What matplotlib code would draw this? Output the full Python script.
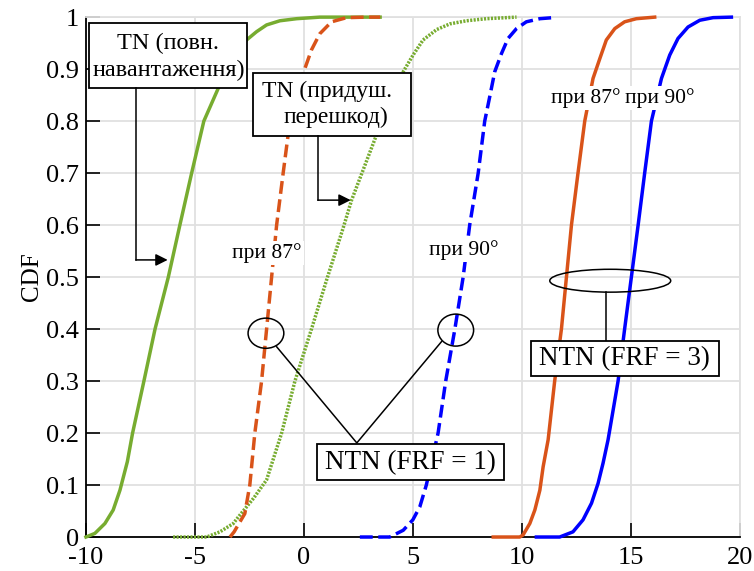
import matplotlib
matplotlib.use("Agg")
import matplotlib.pyplot as plt
from matplotlib.patches import Rectangle, Ellipse

# CDF curves
tn_full_x = [-10.0, -9.59, -9.13, -8.75, -8.44, -8.1, -7.86, -7.34, -6.83, -6.22, -5.69, -5.15, -4.59,
             -3.93, -2.63, -2.17, -1.71, -1.10, -0.33, 0.73, 3.5]
tn_full_y = [0.0, 0.007, 0.026, 0.052, 0.09, 0.145, 0.20, 0.30, 0.40, 0.50, 0.60, 0.70, 0.80,
             0.863, 0.956, 0.972, 0.985, 0.993, 0.997, 1.0, 1.0]

tn_supp_x = [-6.0, -4.46, -3.85, -3.24, -2.94, -2.3, -1.71, -1.02, -0.41, 0.35, 1.04, 1.80, 2.19,
             3.33, 4.56, 5.01, 5.47, 6.09, 6.70, 7.46, 8.38, 9.76]
tn_supp_y = [0.0, 0.0, 0.01, 0.026, 0.042, 0.075, 0.11, 0.20, 0.30, 0.40, 0.494, 0.594, 0.648,
             0.773, 0.895, 0.927, 0.956, 0.976, 0.987, 0.993, 0.997, 1.0]

ntn1_87_x = [-3.39, -3.2, -2.95, -2.71, -2.48, -2.25, -1.94, -1.71, -1.48, -1.25, -0.95, -0.64,
             -0.03, 0.35, 0.73, 1.27, 1.96, 2.87, 3.5]
ntn1_87_y = [0.0, 0.01, 0.028, 0.045, 0.10, 0.20, 0.30, 0.40, 0.50, 0.60, 0.70, 0.80,
             0.892, 0.937, 0.968, 0.991, 0.999, 1.0, 1.0]

ntn1_90_x = [2.57, 3.94, 4.56, 5.0, 5.32, 5.62, 6.16, 6.51, 6.93, 7.31, 7.61, 8.0, 8.3, 8.53, 8.76,
             9.07, 9.37, 9.76, 10.21, 10.83, 11.44]
ntn1_90_y = [0.0, 0.0, 0.013, 0.033, 0.058, 0.10, 0.20, 0.30, 0.40, 0.50, 0.60, 0.70, 0.80, 0.847, 0.895,
             0.930, 0.959, 0.978, 0.991, 0.997, 0.999]

ntn3_87_x = [8.69, 9.91, 10.06, 10.37, 10.6, 10.83, 10.98, 11.21, 11.51, 11.82, 12.05, 12.28, 12.58,
             12.89, 13.27, 13.58, 13.88, 14.27, 14.72, 15.26, 16.1]
ntn3_87_y = [0.0, 0.0, 0.004, 0.026, 0.052, 0.09, 0.135, 0.187, 0.30, 0.40, 0.50, 0.60, 0.70,
             0.80, 0.882, 0.92, 0.956, 0.978, 0.991, 0.997, 1.0]

ntn3_90_x = [10.67, 11.74, 12.35, 12.81, 13.2, 13.5, 13.73, 13.96, 14.42, 14.72, 15.03, 15.34, 15.64,
             15.95, 16.41, 16.79, 17.17, 17.63, 18.17, 18.78, 19.62]
ntn3_90_y = [0.0, 0.0, 0.01, 0.033, 0.065, 0.103, 0.142, 0.187, 0.30, 0.40, 0.50, 0.60, 0.70,
             0.80, 0.882, 0.927, 0.959, 0.981, 0.994, 0.999, 1.0]

x_ticks = [-10, -5, 0, 5, 10, 15, 20]
y_ticks = [0, 0.1, 0.2, 0.3, 0.4, 0.5, 0.6, 0.7, 0.8, 0.9, 1.0]
y_tick_labels = ["0", "0.1", "0.2", "0.3", "0.4", "0.5", "0.6", "0.7", "0.8", "0.9", "1"]

GREEN = "#77AC30"
ORANGE = "#D95319"
BLUE = "#0000FF"

plt.rcParams["font.family"] = ["Liberation Serif", "DejaVu Serif"]
plt.rcParams["axes.unicode_minus"] = False

fig = plt.figure(figsize=(7.54, 5.71), dpi=100)
ax = fig.add_axes([0.114, 0.0595, 0.867, 0.9105])

lw = 2.5
ax.plot(tn_full_x, tn_full_y, color=GREEN, lw=lw, clip_on=False, zorder=3)
ax.plot(tn_supp_x, tn_supp_y, color=GREEN, lw=lw, ls=(0, (0.6, 0.4)), clip_on=False, zorder=3)
ax.plot(ntn1_87_x, ntn1_87_y, color=ORANGE, lw=lw, ls="--", clip_on=False, zorder=3)
ax.plot(ntn1_90_x, ntn1_90_y, color=BLUE, lw=lw, ls="--", clip_on=False, zorder=3)
ax.plot(ntn3_87_x, ntn3_87_y, color=ORANGE, lw=lw, clip_on=False, zorder=3)
ax.plot(ntn3_90_x, ntn3_90_y, color=BLUE, lw=lw, clip_on=False, zorder=3)

ax.set_xlim(-10, 20)
ax.set_ylim(0, 1)
ax.set_xticks(x_ticks)
ax.set_yticks(y_ticks)
ax.set_yticklabels(y_tick_labels)
ax.tick_params(direction="in", length=10, width=1.2, labelsize=19)
ax.tick_params(axis="y", pad=5)
ax.tick_params(axis="x", pad=7.5)
ax.grid(True, color="#e0e0e0", lw=1.3)
ax.set_axisbelow(True)
for side in ("top", "right"):
    ax.spines[side].set_color("#e0e0e0")
    ax.spines[side].set_linewidth(1.3)
for side in ("left", "bottom"):
    ax.spines[side].set_linewidth(1.3)
    ax.spines[side].set_zorder(2.5)
ax.set_ylabel("CDF", fontsize=18, labelpad=2)

ZA = 5
k = dict(color="black", lw=1.1, zorder=ZA, clip_on=False)


def box(x0, y0, x1, y1):
    ax.add_patch(Rectangle((x0, y0), x1 - x0, y1 - y0, fc="white", ec="black",
                           lw=1.3, zorder=ZA))


def label(x, y, text, size):
    ax.text(x, y, text, ha="center", va="center", fontsize=size, zorder=ZA + 1)


def arrow(x0, y0, x1, y1):
    ax.annotate("", xy=(x1, y1), xytext=(x0, y0), zorder=ZA,
                arrowprops=dict(arrowstyle="-|>", color="black", lw=1.1,
                                mutation_scale=18, shrinkA=0, shrinkB=0))


# TN (full load)
box(-9.86, 0.863, -2.61, 0.988)
label(-6.24, 0.950, "TN (повн.", 17.5)
label(-6.20, 0.898, "навантаження)", 17.5)
ax.plot([-7.71, -7.71], [0.863, 0.533], **k)
arrow(-7.71, 0.533, -6.25, 0.533)

# TN (interference suppression)
box(-2.34, 0.771, 4.91, 0.892)
label(1.05, 0.858, "TN (придуш.", 17)
label(1.49, 0.807, "перешкод)", 17)
ax.plot([0.64, 0.64], [0.771, 0.648], **k)
arrow(0.64, 0.648, 2.15, 0.648)

# NTN (FRF = 1)
ax.add_patch(Ellipse((-1.74, 0.392), 1.64, 0.058, fc="none", ec="black", lw=1.1, zorder=ZA))
ax.add_patch(Ellipse((6.97, 0.398), 1.64, 0.0615, fc="none", ec="black", lw=1.1, zorder=ZA))
ax.plot([-1.25, 2.43, 6.32], [0.366, 0.181, 0.376], **k)
box(0.58, 0.11, 9.19, 0.179)
label(4.89, 0.144, "NTN (FRF = 1)", 19.5)

# NTN (FRF = 3)
ax.add_patch(Ellipse((14.06, 0.493), 5.55, 0.044, fc="none", ec="black", lw=1.1, zorder=ZA))
ax.plot([13.85, 13.85], [0.471, 0.377], **k)
box(10.41, 0.31, 19.04, 0.377)
label(14.72, 0.343, "NTN (FRF = 3)", 19.5)

lbl = dict(ha="center", va="center", fontsize=15.5, zorder=4,
           bbox=dict(fc="white", ec="none", pad=1.5))
ax.text(-1.70, 0.546, "при 87°", **lbl)
ax.text(7.34, 0.552, "при 90°", **lbl)
ax.text(12.94, 0.844, "при 87°", **lbl)
ax.text(16.35, 0.844, "при 90°", **lbl)

fig.savefig("out.png", dpi=100)
